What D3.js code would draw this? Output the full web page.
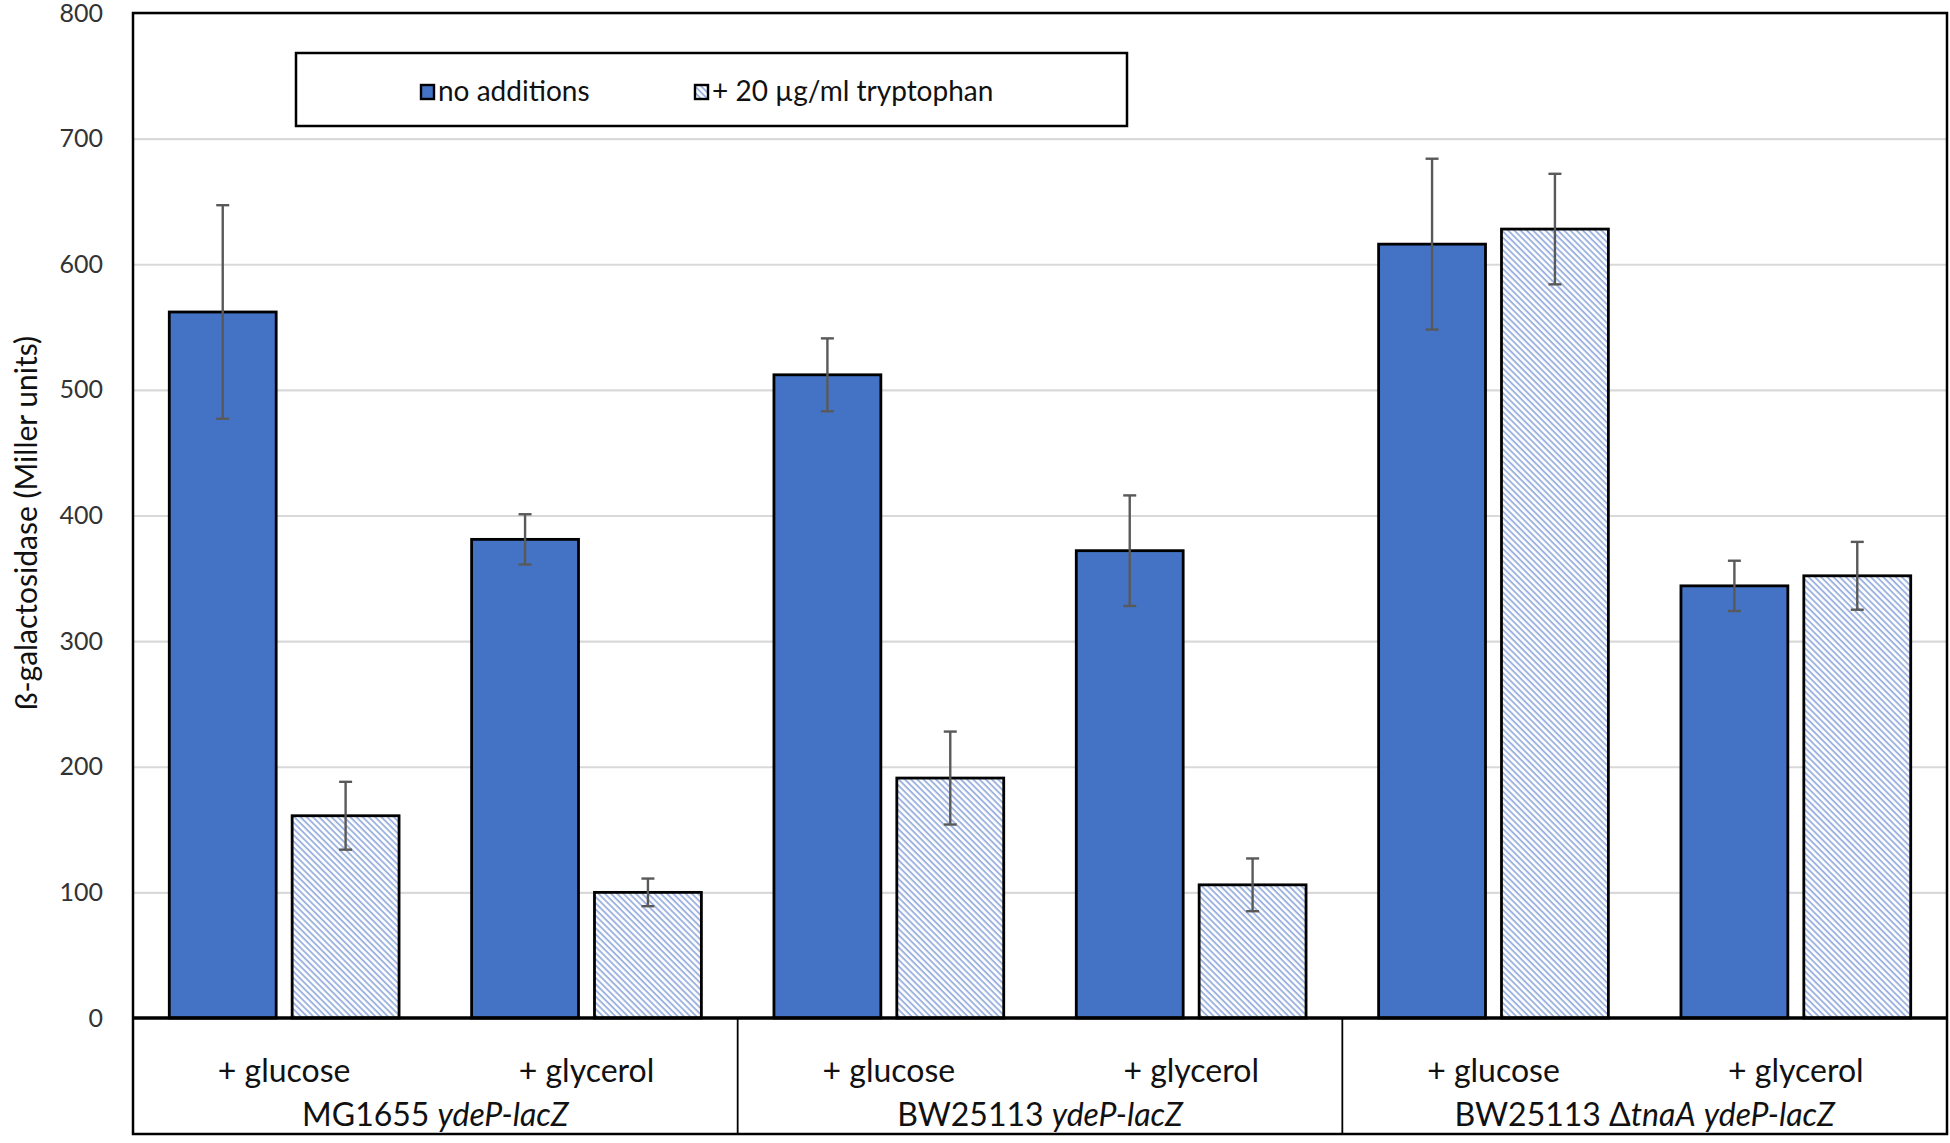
<!DOCTYPE html>
<head>
  <meta charset="utf-8">
  <script src="https://unpkg.com/d3@7/dist/d3.min.js"></script>
  <style>
    body { margin: 0; background: #fff; }
    svg { font-family: Lato, "Open Sans", sans-serif; }
  </style>
</head>
<body>
  <svg width="1950" height="1143"></svg>
  <script>
    // data
    var categories = ["+ glucose", "+ glycerol", "+ glucose", "+ glycerol", "+ glucose", "+ glycerol"];
    var strains = [
      [["MG1655 ", false], ["ydeP-lacZ", true]],
      [["BW25113 ", false], ["ydeP-lacZ", true]],
      [["BW25113 \u0394", false], ["tnaA", true], [" ", false], ["ydeP-lacZ", true]]
    ];
    var series = ["no additions", "+ 20 \u00b5g/ml tryptophan"];
    var noAdditions = [562, 381, 512, 372, 616, 344];
    var noAdditionsErr = [85, 20, 29, 44, 68, 20];
    var tryptophan = [161, 100, 191, 106, 628, 352];
    var tryptophanErr = [27, 11, 37, 21, 44, 27];
    var yTicks = [0, 100, 200, 300, 400, 500, 600, 700, 800];

    var svg = d3.select("svg");
    var plotL = 133, plotR = 1947, plotT = 13, plotB = 1018, boxB = 1134;
    var blue = "#4472c4";

    // light blue "\" hatching
    var defs = svg.append("defs");
    var pat = defs.append("pattern")
      .attr("id", "hatch")
      .attr("patternUnits", "userSpaceOnUse")
      .attr("width", 4.4).attr("height", 4.4)
      .attr("patternTransform", "rotate(45)");
    pat.append("rect").attr("width", 4.4).attr("height", 4.4).attr("fill", "#fff");
    pat.append("rect").attr("width", 4.4).attr("height", 1.9).attr("fill", "#9db3e0");

    var y = d3.scaleLinear().domain([0, 800]).range([plotB, plotT]);
    var x0 = d3.scaleBand().domain(d3.range(categories.length)).range([plotL, plotR])
      .paddingInner(0.24).paddingOuter(0.12);
    var x1 = d3.scaleBand().domain(series).range([0, x0.bandwidth()]).paddingInner(0.13);

    // gridlines
    svg.append("g")
      .attr("transform", "translate(" + plotL + ",0)")
      .call(d3.axisLeft(y).tickValues(yTicks.slice(1)).tickSize(-(plotR - plotL)).tickFormat(""))
      .call(function (g) {
        g.select(".domain").remove();
        g.selectAll("line").attr("stroke", "#d9d9d9").attr("stroke-width", 2.2);
      });

    // tick labels
    svg.append("g")
      .attr("transform", "translate(" + (plotL - 30) + ",0)")
      .call(d3.axisLeft(y).tickValues(yTicks).tickSize(0).tickPadding(0))
      .call(function (g) {
        g.select(".domain").remove();
        g.selectAll("text").attr("font-size", 25).attr("fill", "#333")
          .attr("font-family", "Lato, sans-serif");
      });

    var rows = categories.map(function (c, i) {
      return [
        { s: series[0], v: noAdditions[i], e: noAdditionsErr[i] },
        { s: series[1], v: tryptophan[i], e: tryptophanErr[i] }
      ];
    });

    var cat = svg.append("g").selectAll("g").data(rows).enter().append("g")
      .attr("transform", function (d, i) { return "translate(" + x0(i) + ",0)"; });

    cat.selectAll("rect").data(function (d) { return d; }).enter().append("rect")
      .attr("x", function (d) { return x1(d.s); })
      .attr("y", function (d) { return y(d.v); })
      .attr("width", x1.bandwidth())
      .attr("height", function (d) { return y(0) - y(d.v); })
      .attr("fill", function (d, i) { return i === 0 ? blue : "url(#hatch)"; })
      .attr("stroke", "#000").attr("stroke-width", 2.8);

    var eb = cat.selectAll(".err").data(function (d) { return d; }).enter().append("g")
      .attr("class", "err")
      .attr("stroke", "#595959").attr("stroke-width", 2.4)
      .attr("transform", function (d) { return "translate(" + (x1(d.s) + x1.bandwidth() / 2) + ",0)"; });
    eb.append("line")
      .attr("y1", function (d) { return y(d.v + d.e); })
      .attr("y2", function (d) { return y(d.v - d.e); });
    eb.append("line").attr("x1", -6.5).attr("x2", 6.5)
      .attr("y1", function (d) { return y(d.v + d.e); })
      .attr("y2", function (d) { return y(d.v + d.e); });
    eb.append("line").attr("x1", -6.5).attr("x2", 6.5)
      .attr("y1", function (d) { return y(d.v - d.e); })
      .attr("y2", function (d) { return y(d.v - d.e); });

    // frame, axis line and group dividers
    svg.append("rect")
      .attr("x", plotL).attr("y", plotT)
      .attr("width", plotR - plotL).attr("height", boxB - plotT)
      .attr("fill", "none").attr("stroke", "#000").attr("stroke-width", 2.5);
    svg.append("line")
      .attr("x1", plotL).attr("x2", plotR).attr("y1", y(0)).attr("y2", y(0))
      .attr("stroke", "#000").attr("stroke-width", 3.4);
    var step = x0.step();
    svg.append("g").selectAll("line").data([1, 2]).enter().append("line")
      .attr("x1", function (d) { return plotL + d * 2 * step; })
      .attr("x2", function (d) { return plotL + d * 2 * step; })
      .attr("y1", y(0)).attr("y2", boxB)
      .attr("stroke", "#000").attr("stroke-width", 1.8);

    // category labels
    svg.append("g").selectAll("text").data(categories).enter().append("text")
      .attr("x", function (d, i) { return x0(i) + x0.bandwidth() / 2; })
      .attr("y", 1082)
      .attr("text-anchor", "middle")
      .attr("font-size", 32).attr("fill", "#111")
      .text(function (d) { return d; });

    var gl = svg.append("g").selectAll("text").data(strains).enter().append("text")
      .attr("x", function (d, i) { return plotL + (i * 2 + 1) * step; })
      .attr("y", 1126)
      .attr("text-anchor", "middle")
      .attr("font-size", 32).attr("fill", "#111");
    gl.selectAll("tspan").data(function (d) { return d; }).enter().append("tspan")
      .attr("font-style", function (d) { return d[1] ? "italic" : "normal"; })
      .text(function (d) { return d[0]; });

    // y title
    svg.append("text")
      .attr("transform", "translate(37,523) rotate(-90)")
      .attr("text-anchor", "middle")
      .attr("font-size", 30).attr("fill", "#111")
      .text("\u00df-galactosidase (Miller units)");

    // legend
    var lg = svg.append("g");
    lg.append("rect")
      .attr("x", 296).attr("y", 53).attr("width", 831).attr("height", 73)
      .attr("fill", "#fff").attr("stroke", "#000").attr("stroke-width", 2.5);
    var li = lg.selectAll("g").data(series).enter().append("g")
      .attr("transform", function (d, i) { return "translate(" + [421, 695][i] + ",85)"; });
    li.append("rect").attr("width", 13).attr("height", 14)
      .attr("fill", function (d, i) { return i === 0 ? blue : "url(#hatch)"; })
      .attr("stroke", "#000").attr("stroke-width", 2.4);
    li.append("text").attr("x", 17).attr("y", 16)
      .attr("font-size", 28).attr("fill", "#111")
      .text(function (d) { return d; });
  </script>
</body>
